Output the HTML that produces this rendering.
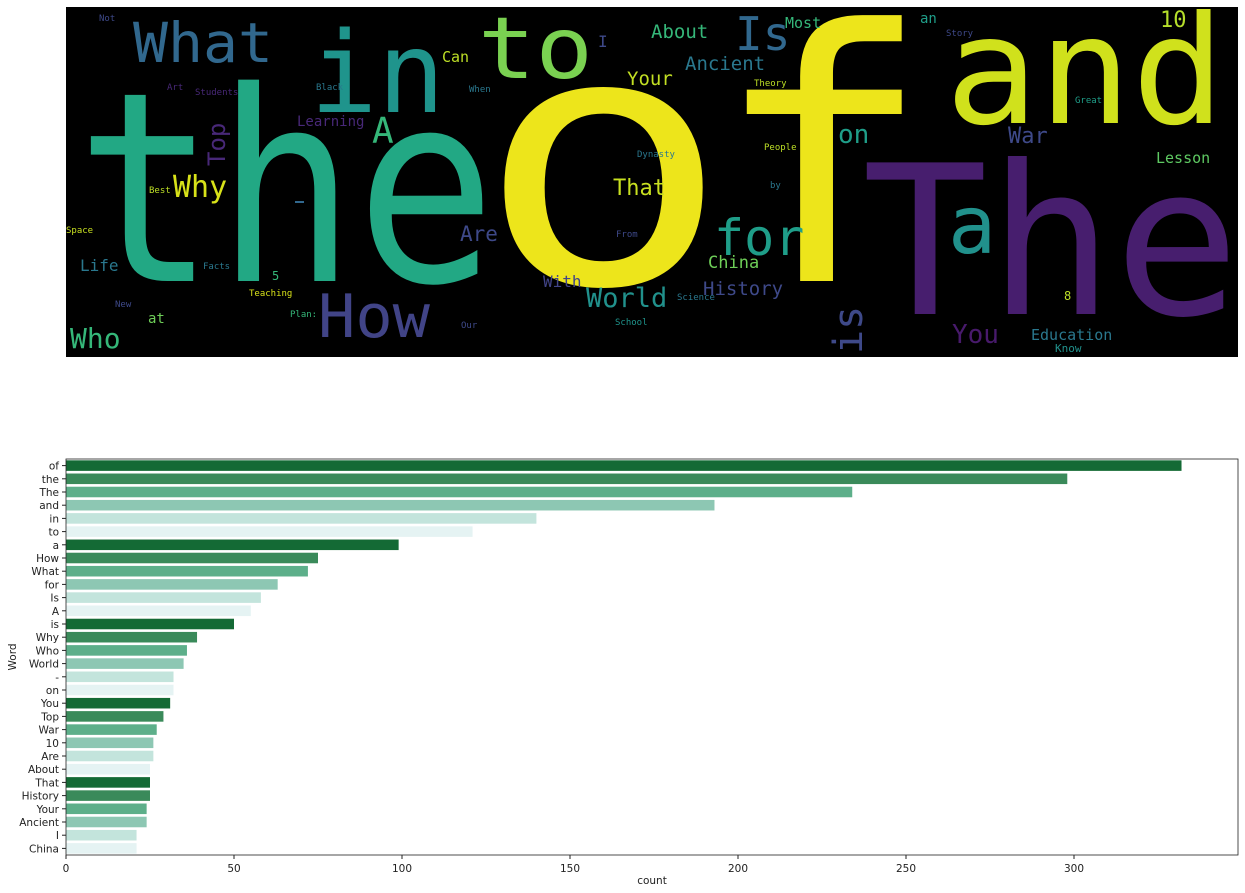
<!DOCTYPE html>
<html><head><meta charset="utf-8"><style>
html,body{margin:0;padding:0;background:#fff;}
svg{display:block;}
.wc text{font-family:"DejaVu Sans Mono","Liberation Mono",monospace;}
.ax text{font-family:"DejaVu Sans","Liberation Sans",sans-serif;font-size:10.5px;fill:#222;}
</style></head><body>
<svg id="page" width="1245" height="893" viewBox="0 0 1245 893">
<g class="wc">
<rect x="66" y="7" width="1172" height="350" fill="#000"/>
<text x="76" y="281" font-size="265" fill="#22a884" textLength="420" lengthAdjust="spacingAndGlyphs">the</text>
<text x="476" y="283" font-size="350" fill="#ede51b" textLength="255" lengthAdjust="spacingAndGlyphs">o</text>
<text x="712" y="281" font-size="350" fill="#ede51b" textLength="220" lengthAdjust="spacingAndGlyphs">f</text>
<text x="945" y="123" font-size="150" fill="#d0e11c" textLength="280" lengthAdjust="spacingAndGlyphs">and</text>
<text x="862" y="314" font-size="208" fill="#471e6e" textLength="378" lengthAdjust="spacingAndGlyphs">The</text>
<text x="310" y="112" font-size="112" fill="#1f948c" textLength="135" lengthAdjust="spacingAndGlyphs">in</text>
<text x="478" y="78" font-size="86" fill="#7ad151" textLength="115" lengthAdjust="spacingAndGlyphs">to</text>
<text x="133" y="62" font-size="55" fill="#31688e" textLength="140" lengthAdjust="spacingAndGlyphs">What</text>
<text x="318" y="337" font-size="60" fill="#414487" textLength="112" lengthAdjust="spacingAndGlyphs">How</text>
<text x="70" y="348" font-size="28" fill="#35b779">Who</text>
<text x="372" y="143" font-size="36" fill="#35b779">A</text>
<text x="173" y="197" font-size="30" fill="#d8e219">Why</text>
<text transform="translate(225,166) rotate(-90)" font-size="24" fill="#482878">Top</text>
<rect x="295" y="201" width="9" height="2" fill="#31688e"/>
<text x="460" y="241" font-size="21" fill="#3e4989">Are</text>
<text x="613" y="195" font-size="22" fill="#c8e020">That</text>
<text x="586" y="307" font-size="27" fill="#21918c">World</text>
<text x="543" y="287" font-size="16" fill="#414487">With</text>
<text x="80" y="271" font-size="16" fill="#2a788e">Life</text>
<text x="297" y="126" font-size="14" fill="#482878">Learning</text>
<text x="442" y="62" font-size="15" fill="#bddf26">Can</text>
<text x="148" y="323" font-size="14" fill="#6ece58">at</text>
<text x="627" y="85" font-size="19" fill="#c2df23">Your</text>
<text x="598" y="47" font-size="16" fill="#3e4989">I</text>
<text x="714" y="255" font-size="50" fill="#1f9e89">for</text>
<text x="948" y="253" font-size="80" fill="#21918c">a</text>
<text x="838" y="143" font-size="26" fill="#1f9e89">on</text>
<text x="1008" y="143" font-size="22" fill="#3e4989">War</text>
<text x="1156" y="163" font-size="15" fill="#5ec962">Lesson</text>
<text transform="translate(862,354) rotate(-90)" font-size="40" fill="#3e4989">is</text>
<text x="952" y="343" font-size="26" fill="#481a6c">You</text>
<text x="1031" y="340" font-size="15" fill="#2a788e">Education</text>
<text x="1055" y="352" font-size="11" fill="#21918c">Know</text>
<text x="703" y="295" font-size="19" fill="#3e4989">History</text>
<text x="708" y="268" font-size="17" fill="#6ece58">China</text>
<text x="685" y="70" font-size="19" fill="#2a788e">Ancient</text>
<text x="735" y="50" font-size="46" fill="#31688e">Is</text>
<text x="785" y="28" font-size="15" fill="#35b779">Most</text>
<text x="651" y="38" font-size="19" fill="#35b779">About</text>
<text x="920" y="23" font-size="14" fill="#1f9e89">an</text>
<text x="1160" y="27" font-size="22" fill="#b5de2b">10</text>
<g font-size="9">
<text x="946" y="36" fill="#3e4989">Story</text>
<text x="99" y="21" fill="#3e4989">Not</text>
<text x="167" y="90" fill="#482878">Art</text>
<text x="195" y="95" fill="#482878">Students</text>
<text x="149" y="193" fill="#bddf26">Best</text>
<text x="66" y="233" fill="#c8e020">Space</text>
<text x="203" y="269" fill="#2a788e">Facts</text>
<text x="249" y="296" fill="#d8e219">Teaching</text>
<text x="290" y="317" fill="#35b779">Plan:</text>
<text x="461" y="328" fill="#3e4989">Our</text>
<text x="615" y="325" fill="#1f948c">School</text>
<text x="272" y="280" font-size="12" fill="#35b779">5</text>
<text x="115" y="307" fill="#3e4989">New</text>
<text x="764" y="150" fill="#bddf26">People</text>
<text x="637" y="157" fill="#2a788e">Dynasty</text>
<text x="770" y="188" fill="#2a788e">by</text>
<text x="754" y="86" fill="#bddf26">Theory</text>
<text x="1075" y="103" fill="#1f9e89">Great</text>
<text x="677" y="300" fill="#2a788e">Science</text>
<text x="616" y="237" fill="#3e4989">From</text>
<text x="469" y="92" fill="#2a788e">When</text>
<text x="316" y="90" fill="#2a788e">Black</text>
<text x="1064" y="300" font-size="12" fill="#bddf26">8</text>
</g>
</g>
<g class="ax" id="chart"></g>
</svg>
<script>
const words = ["of","the","The","and","in","to","a","How","What","for","Is","A","is","Why","Who","World","-","on","You","Top","War","10","Are","About","That","History","Your","Ancient","I","China"];
const counts = [332,298,234,193,140,121,99,75,72,63,58,55,50,39,36,35,32,32,31,29,27,26,26,25,25,25,24,24,21,21];
const ticks = [0,50,100,150,200,250,300];
const palette = ["#146a35","#3a8a5a","#5daf8a","#8dc7b3","#c3e4dc","#e5f3f3"];
const NS = "http://www.w3.org/2000/svg";
const g = document.getElementById("chart");
const X0 = 66, X1 = 1238, Y0 = 459, Y1 = 855;
const xs = v => X0 + v * 3.36;
const band = (Y1 - Y0) / words.length;
const ys = i => Y0 + i * band;
function mk(tag, attrs, parent) {
  const e = document.createElementNS(NS, tag);
  for (const k in attrs) e.setAttribute(k, attrs[k]);
  (parent || g).appendChild(e);
  return e;
}
words.forEach((w, i) => {
  const r = mk("rect", {x: X0, y: ys(i) + band * 0.1, width: xs(counts[i]) - X0, height: band * 0.8, fill: palette[i % 6]});
  
  
  const tk = mk("line", {x1: X0 - 4, x2: X0, y1: ys(i) + band / 2, y2: ys(i) + band / 2, stroke: "#222"});
  
  
  const t = mk("text", {x: X0 - 7, y: ys(i) + band / 2 + 4, "text-anchor": "end"});
  t.textContent = w;
  
  
});
ticks.forEach(v => {
  const tk = mk("line", {x1: xs(v), x2: xs(v), y1: Y1, y2: Y1 + 4, stroke: "#222"});
  
  
  const t = mk("text", {x: xs(v), y: Y1 + 17, "text-anchor": "middle"});
  t.textContent = v;
  
  
});
const frame = mk("rect", {x: X0, y: Y0, width: X1 - X0, height: Y1 - Y0, fill: "none", stroke: "#222", "stroke-width": 0.8});


const xl = mk("text", {x: (X0 + X1) / 2, y: 884, "text-anchor": "middle"});
xl.textContent = "count";


const yl = mk("text", {x: 0, y: 0, "text-anchor": "middle", transform: "translate(16," + ((Y0 + Y1) / 2) + ") rotate(-90)"});
yl.textContent = "Word";


</script>
</body></html>
